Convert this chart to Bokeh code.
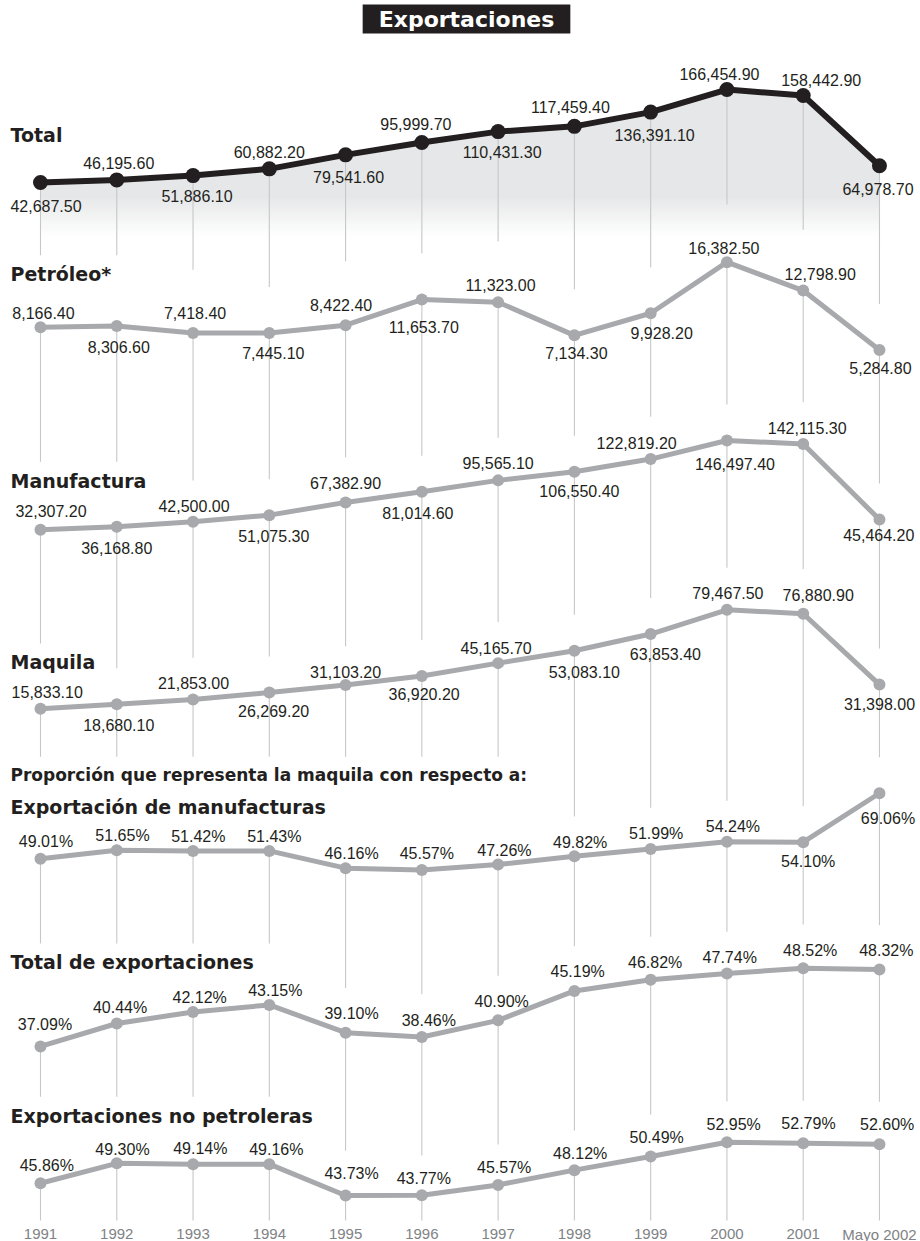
from bokeh.plotting import figure
from bokeh.models import Range1d, Label
from bokeh.core.properties import value
from bokeh.embed import file_html
from bokeh.resources import INLINE

# ---------------- data ----------------
years = ["1991", "1992", "1993", "1994", "1995", "1996", "1997", "1998",
         "1999", "2000", "2001", "Mayo 2002"]
total = [42687.50, 46195.60, 51886.10, 60882.20, 79541.60, 95999.70,
         110431.30, 117459.40, 136391.10, 166454.90, 158442.90, 64978.70]
petroleo = [8166.40, 8306.60, 7418.40, 7445.10, 8422.40, 11653.70,
            11323.00, 7134.30, 9928.20, 16382.50, 12798.90, 5284.80]
manufactura = [32307.20, 36168.80, 42500.00, 51075.30, 67382.90, 81014.60,
               95565.10, 106550.40, 122819.20, 146497.40, 142115.30, 45464.20]
maquila = [15833.10, 18680.10, 21853.00, 26269.20, 31103.20, 36920.20,
           45165.70, 53083.10, 63853.40, 79467.50, 76880.90, 31398.00]
pct_manufacturas = [49.01, 51.65, 51.42, 51.43, 46.16, 45.57, 47.26, 49.82,
                    51.99, 54.24, 54.10, 69.06]
pct_total = [37.09, 40.44, 42.12, 43.15, 39.10, 38.46, 40.90, 45.19,
             46.82, 47.74, 48.52, 48.32]
pct_no_petroleras = [45.86, 49.30, 49.14, 49.16, 43.73, 43.77, 45.57, 48.12,
                     50.49, 52.95, 52.79, 52.60]

title_text = "Exportaciones"
section_text = "Proporción que representa la maquila con respecto a:"

# ---------------- layout / style ----------------
W, H = 920, 1241
X_FIRST, X_STEP = 40.0, 76.27   # horizontal placement of the categories

DARK = "#231f20"
GRAY = "#a7a9ac"
DROP = "#c6c7c9"
FILL = "#e6e7e8"
NUM_FONT = "Liberation Sans"
HEAD_FONT = "DejaVu Sans"

# label offsets (dx, dy) of each value label's centre from its point, in px
off_total = [(5.5, 23), (2, -16.5), (4, 20), (0, -17), (3, 22.5), (-6, -18),
             (4, 20.7), (-4, -19), (4, 23), (-7.5, -15.7), (18, -15.7), (-1.5, 23)]
off_petroleo = [(3, -14), (2, 21), (2, -19.7), (4, 20), (-4.5, -20), (2, 27),
                (2.5, -17), (2, 17.7), (11, 20), (-3, -14), (17, -17), (1, 18)]
off_manufactura = [(10.5, -19), (0, 20.7), (1, -15.7), (4.5, 21), (0, -19.4), (-4, 21),
                   (0, -17), (5, 19), (-14, -16.5), (8, 23), (4, -16), (-0.7, 15)]
off_maquila = [(6.7, -16.3), (2, 21), (0.5, -16), (4.3, 18), (0, -13), (2.3, 18.5),
               (-2, -15.5), (10, 21), (14.7, 19.7), (1, -16.3), (15, -19), (0, 19)]
off_pm = [(5.5, -17), (5.7, -14.5), (5.3, -14.3), (5, -14.7), (6, -15), (5, -17),
          (6.3, -14), (5.8, -14), (5.5, -15.7), (6, -15.3), (5, 19), (8.5, 25)]
off_pt = [(4.5, -21.5), (3.3, -15.6), (6.6, -14.4), (6, -14.5), (6, -19), (7, -17),
          (3.5, -19), (3.3, -19), (4.5, -17.3), (2.8, -16), (7, -18), (6.8, -18.7)]
off_pn = [(6.3, -18), (5.7, -14), (7.3, -15.5), (7, -14.5), (6, -22), (2, -17),
          (6, -17.7), (5.8, -17), (6, -19), (6.7, -18), (5.3, -19.6), (7.7, -19.8)]

money = "{:,.2f}"
pct = "{:.2f}%"

# Z: pixel row of the value 0, k: pixels per unit; titles: (text, cap top, size, right edge)
panels = [
    dict(key="total", values=total, fmt=money, Z=214.1, k=0.0007514, color=DARK,
         lw=6, ms=15, off=off_total, gap_lab=38, gap_pt=46,
         titles=[("Total", 128.0, 19, 73)]),
    dict(key="petroleo", values=petroleo, fmt=money, Z=391.3, k=0.007911, color=GRAY,
         lw=5, ms=12, off=off_petroleo, gap_lab=20, gap_pt=36,
         titles=[("Petróleo*", 266.7, 19, 108)]),
    dict(key="manufactura", values=manufactura, fmt=money, Z=554.6, k=0.000782, color=GRAY,
         lw=5, ms=12, off=off_manufactura, gap_lab=20, gap_pt=36,
         titles=[("Manufactura", 473.3, 19, 141)]),
    dict(key="maquila", values=maquila, fmt=money, Z=732.9, k=0.0015558, color=GRAY,
         lw=5, ms=12, off=off_maquila, gap_lab=20, gap_pt=36,
         titles=[("Maquila", 655.0, 19, 91)]),
    dict(key="pm", values=pct_manufacturas, fmt=pct, Z=1018.7, k=3.272, color=GRAY,
         lw=5, ms=12, off=off_pm, gap_lab=20, gap_pt=36,
         titles=[(section_text, 768.3, 17, 522),
                 ("Exportación de manufacturas", 800.0, 19, 322)]),
    dict(key="pt", values=pct_total, fmt=pct, Z=1300.0, k=6.85, color=GRAY,
         lw=5, ms=12, off=off_pt, gap_lab=17, gap_pt=36,
         titles=[("Total de  exportaciones", 955.0, 19, 258)]),
    dict(key="pn", values=pct_no_petroleras, fmt=pct, Z=1447.8, k=5.78, color=GRAY,
         lw=5, ms=12, off=off_pn, gap_lab=17, gap_pt=36,
         titles=[("Exportaciones no petroleras", 1108.3, 19, 310)]),
]

idx = list(range(len(years)))


def ref_x(i):
    return X_FIRST + i * X_STEP


def ref_y(pn, j):
    return pn["Z"] - pn["values"][j] * pn["k"]


def to_val(pn, ry):
    return (pn["Z"] - ry) / pn["k"]


p = figure(width=W, height=H, output_backend="svg", toolbar_location=None,
           x_axis_location=None, y_axis_location=None, min_border=0,
           x_range=Range1d(-X_FIRST / X_STEP, (W - X_FIRST) / X_STEP),
           y_range=Range1d(H, 0))
p.grid.visible = False
p.outline_line_color = None
p.background_fill_color = "white"
p.border_fill_color = "white"
p.extra_x_ranges = {"layout": Range1d(0, W)}
p.extra_y_ranges = {pn["key"]: Range1d(to_val(pn, H), to_val(pn, 0)) for pn in panels}

# ---- shaded area under the Total line (fading to white)
tp = panels[0]
fade_a, fade_b, nb = 195.0, 236.0, 20
p.varea(x=idx, y1=total, y2=[to_val(tp, fade_a + 0.5)] * len(idx), y_range_name="total",
        fill_color=FILL)


def mix(c, t):
    r, g, b = int(c[1:3], 16), int(c[3:5], 16), int(c[5:7], 16)
    return "#%02x%02x%02x" % (int(r + (255 - r) * t), int(g + (255 - g) * t), int(b + (255 - b) * t))


step = (fade_b - fade_a) / nb
for b in range(nb):
    top_r = fade_a + b * step
    bot_r = top_r + step + 0.6
    p.quad(left=[0], right=[len(idx) - 1], top=[top_r], bottom=[bot_r],
           fill_color=mix(FILL, (b + 0.5) / nb), line_color=None)

# ---- drop lines
for i, pn in enumerate(panels):
    ends = []
    for j in idx:
        if i + 1 < len(panels):
            nx = panels[i + 1]
            ny = ref_y(nx, j)
            dxl, dyl = nx["off"][j]
            cands = [ny - pn["gap_pt"]]
            if dyl < 0:
                cands.append(ny + dyl - 5.7 - pn["gap_lab"])
            for (t, top, size, right) in nx["titles"]:
                if ref_x(j) <= right + 12:
                    cands.append(top - 12)
            e = min(cands)
        else:
            e = 1220.0
        ends.append(to_val(pn, e))
    p.segment(x0=idx, y0=pn["values"], x1=idx, y1=ends, y_range_name=pn["key"],
              line_color=DROP, line_width=1.1)

# ---- series lines, markers, value labels, headings
for pn in panels:
    p.line(idx, pn["values"], y_range_name=pn["key"], line_color=pn["color"],
           line_width=pn["lw"], line_join="round")
    p.scatter(idx, pn["values"], y_range_name=pn["key"], size=pn["ms"],
              fill_color=pn["color"], line_color=None)
    for j in idx:
        dx, dy = pn["off"][j]
        p.text(x=[j], y=[pn["values"][j]], text=[pn["fmt"].format(pn["values"][j])],
               y_range_name=pn["key"], x_offset=dx, y_offset=dy,
               text_align="center", text_baseline="middle",
               text_font=value(NUM_FONT), text_font_size="16px", text_color=DARK)
    for (t, top, size, right) in pn["titles"]:
        p.text(x=[10], y=[top + 0.729 * size / 2], text=[t], x_range_name="layout",
               text_align="left", text_baseline="middle",
               text_font=value(HEAD_FONT), text_font_style="bold",
               text_font_size=f"{size}px", text_color=DARK)

# ---- category labels along the bottom
p.text(x=idx, y=[1233.5] * len(idx), text=years, text_align="center",
       text_baseline="middle", text_font=value(NUM_FONT),
       text_font_size="15px", text_color="#808285")

# ---- boxed heading
p.add_layout(Label(x=466, y=18.5, x_range_name="layout", text=title_text,
                   text_font=HEAD_FONT, text_font_style="bold", text_font_size="22px",
                   text_color="white", text_align="center", text_baseline="middle",
                   background_fill_color=DARK, padding=(16, 2)))

open("out.html", "w").write(file_html(p, INLINE))
